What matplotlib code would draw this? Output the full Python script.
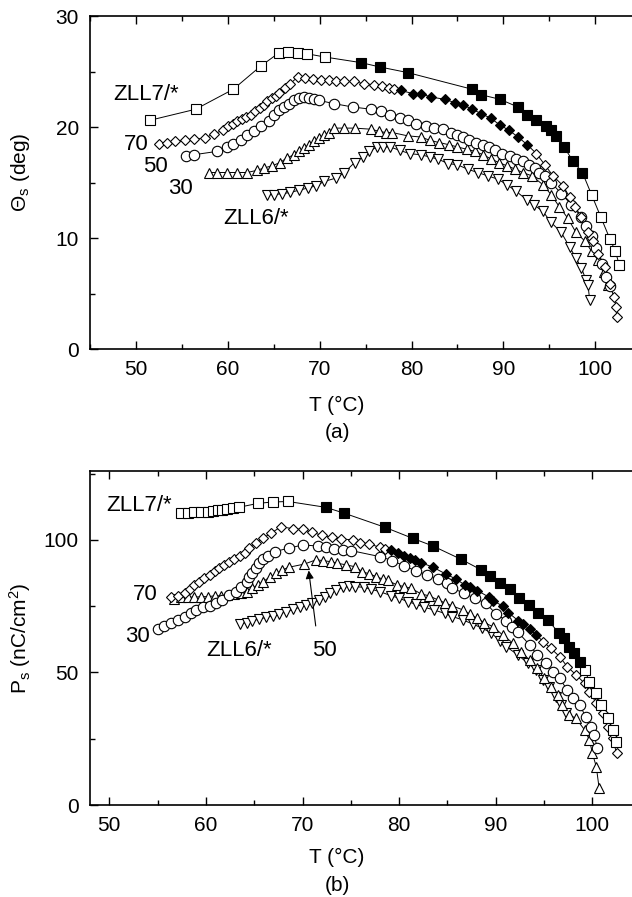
import numpy as np
import matplotlib
matplotlib.use("Agg")
import matplotlib.pyplot as plt
from matplotlib.ticker import MultipleLocator

plt.rcParams.update({
    "font.family": ["Liberation Sans", "DejaVu Sans"], "font.size": 15,
    "mathtext.fontset": "custom", "mathtext.rm": "Liberation Sans",
    "mathtext.it": "Liberation Sans:italic"})

# ---------------- (a) tilt angle Theta_s (deg) vs T (C)
a7_T = [51.5, 56.5, 60.6, 63.6, 65.6, 66.6, 67.6, 68.6, 70.6, 74.5, 76.6, 79.6, 86.6, 87.6,
        89.6, 91.6, 92.6, 93.6, 94.6, 95.2, 95.7, 96.6, 97.6, 98.6, 99.6, 100.6, 101.6, 102.2, 102.6]
a7_th = [20.6, 21.6, 23.4, 25.5, 26.7, 26.8, 26.7, 26.6, 26.3, 25.8, 25.4, 24.9, 23.4, 22.9,
         22.5, 21.8, 21.1, 20.6, 20.1, 19.7, 19.2, 18.2, 16.9, 15.9, 13.9, 11.9, 9.9, 8.8, 7.6]
a70_T = [52.5, 53.4, 54.3, 55.3, 56.3, 57.5, 58.5, 59.5, 60.0, 60.6, 61.0, 61.5, 62.0, 62.5, 63.0,
         63.5, 63.9, 64.3, 64.8, 65.2, 65.6, 66.2, 66.8, 67.6, 68.4, 69.3, 70.2, 71.0, 71.8, 72.7,
         73.7, 74.8, 75.9, 76.8, 77.6, 78.1, 78.8, 80.2, 81.0, 82.1, 83.6, 84.7, 85.6, 86.6, 87.6,
         88.6, 89.6, 90.6, 91.6, 92.6, 93.6, 94.5, 95.4, 96.5, 97.2, 97.8, 98.5, 99.2, 99.8, 100.3,
         101.1, 101.6, 102.0, 102.3, 102.4]
a70_th = [18.5, 18.6, 18.7, 18.8, 18.9, 19.0, 19.4, 19.7, 20.1, 20.3, 20.5, 20.7, 20.9, 21.1, 21.4,
          21.7, 22.0, 22.3, 22.6, 22.8, 23.1, 23.5, 23.9, 24.5, 24.4, 24.3, 24.2, 24.2, 24.1, 24.1,
          24.1, 23.9, 23.8, 23.7, 23.5, 23.4, 23.3, 23.0, 23.0, 22.7, 22.5, 22.2, 22.0, 21.6, 21.2,
          20.8, 20.2, 19.7, 19.1, 18.4, 17.6, 16.6, 15.6, 14.7, 13.7, 12.8, 11.9, 10.5, 9.7, 8.6,
          7.4, 5.9, 4.7, 3.8, 2.9]
a50_T = [55.5, 56.3, 58.8, 59.9, 60.6, 61.4, 62.1, 62.8, 63.6, 64.5, 65.0, 65.6, 66.1, 66.7, 67.2,
         67.7, 68.3, 68.8, 69.4, 69.9, 71.6, 73.6, 75.6, 76.7, 77.7, 78.7, 79.6, 80.5, 81.6, 82.5,
         83.4, 84.3, 85.0, 85.6, 86.3, 87.0, 87.8, 88.4, 89.1, 89.9, 90.7, 91.4, 92.1, 92.8, 93.4,
         93.9, 94.5, 95.2, 96.3, 97.4, 98.5, 99.0, 99.6, 100.1, 100.7, 101.2, 101.6]
a50_th = [17.4, 17.5, 17.8, 18.2, 18.5, 18.8, 19.3, 19.6, 20.1, 20.5, 21.1, 21.5, 21.8, 22.1, 22.4,
          22.6, 22.7, 22.6, 22.5, 22.4, 22.1, 21.8, 21.6, 21.4, 21.1, 20.8, 20.6, 20.3, 20.1, 19.9,
          19.8, 19.5, 19.3, 19.1, 18.8, 18.6, 18.4, 18.2, 17.9, 17.6, 17.4, 17.1, 16.9, 16.6, 16.3,
          15.9, 15.6, 15.0, 14.0, 13.0, 11.9, 11.1, 10.2, 9.1, 7.7, 6.5, 5.7]
a30_T = [57.9, 58.8, 59.9, 61.0, 62.1, 63.2, 63.9, 64.8, 65.7, 66.4, 67.2, 67.7, 68.3, 68.8, 69.4,
         69.9, 70.5, 71.0, 71.6, 72.7, 73.8, 75.6, 76.5, 77.2, 77.9, 79.6, 81.0, 82.0, 83.0, 84.1,
         85.0, 86.0, 86.9, 87.8, 88.7, 89.5, 90.4, 91.3, 92.1, 93.1, 94.3, 95.2, 96.1, 97.0, 97.9,
         98.9, 99.6, 100.3, 100.9, 101.4]
a30_th = [15.9, 15.9, 15.9, 15.9, 15.9, 16.1, 16.3, 16.5, 16.8, 17.2, 17.5, 17.8, 18.1, 18.4, 18.7,
          19.0, 19.3, 19.5, 19.9, 19.9, 19.9, 19.8, 19.6, 19.5, 19.5, 19.2, 19.1, 18.8, 18.6, 18.4,
          18.2, 18.0, 17.8, 17.5, 17.1, 16.8, 16.5, 16.2, 15.9, 15.6, 14.8, 13.9, 12.8, 11.8, 10.5,
          9.7, 8.8, 8.0, 6.9, 5.8]
a6_T = [64.3, 65.0, 65.9, 66.8, 67.7, 68.7, 69.6, 70.5, 71.8, 72.7, 73.8, 74.7, 75.4, 76.2, 76.9,
        77.7, 78.7, 79.8, 81.0, 82.0, 82.9, 84.0, 85.0, 86.1, 87.2, 88.3, 89.4, 90.4, 91.4, 92.6,
        93.3, 94.3, 95.2, 96.3, 97.2, 97.9, 98.5, 99.0, 99.2, 99.4]
a6_th = [13.9, 13.9, 14.0, 14.1, 14.3, 14.5, 14.7, 15.1, 15.4, 15.9, 16.8, 17.3, 17.8, 18.2, 18.2,
         18.2, 17.9, 17.6, 17.5, 17.3, 17.1, 16.7, 16.6, 16.2, 15.9, 15.6, 15.3, 14.8, 14.2, 13.4,
         13.0, 12.4, 11.4, 10.5, 9.2, 8.2, 7.3, 6.2, 5.8, 4.4]

# ---------------- (b) polarization P_s (nC/cm2) vs T (C)
b7_T = [57.4, 58.1, 58.8, 59.5, 60.2, 60.7, 61.2, 61.7, 62.2, 62.8, 63.4, 65.4, 66.9, 68.5, 72.4,
        74.3, 78.5, 81.4, 83.5, 86.4, 88.5, 89.4, 90.4, 91.5, 92.4, 93.4, 94.4, 95.4, 96.5, 97.1,
        97.6, 98.1, 98.7, 99.2, 99.7, 100.4, 100.9, 101.6, 102.1, 102.4]
b7_P = [110.1, 110.3, 110.4, 110.6, 110.7, 110.9, 111.1, 111.3, 111.6, 112.0, 112.3, 113.8, 114.3,
        114.5, 112.3, 110.1, 104.8, 100.6, 97.7, 92.7, 88.7, 86.4, 83.9, 81.4, 78.0, 75.5, 72.6,
        69.8, 65.0, 62.9, 59.7, 57.2, 54.1, 50.9, 46.5, 42.1, 37.7, 32.7, 28.3, 23.9]
b70_T = [56.4, 57.1, 57.8, 58.3, 58.8, 59.3, 59.8, 60.4, 60.9, 61.4, 61.9, 62.4, 62.9, 63.5, 64.0,
         64.5, 65.2, 65.9, 66.7, 67.8, 69.0, 70.0, 71.0, 72.0, 73.0, 74.0, 75.2, 75.9, 76.9, 78.0,
         78.5, 79.2, 79.9, 80.5, 81.1, 81.6, 82.3, 83.5, 84.8, 85.9, 86.8, 87.3, 88.1, 89.3, 89.7,
         90.7, 91.3, 92.3, 92.8, 93.5, 94.2, 94.9, 95.7, 96.6, 97.4, 98.3, 99.2, 99.7, 100.4, 101.1,
         101.6, 102.1, 102.5]
b70_P = [78.6, 78.9, 79.9, 81.4, 83.0, 84.3, 85.5, 86.8, 88.4, 89.3, 90.6, 91.8, 92.7, 94.0, 95.2,
         96.9, 98.7, 100.6, 102.5, 105.0, 104.2, 104.0, 102.8, 101.8, 101.0, 100.4, 100.0, 99.0,
         98.5, 97.2, 96.5, 96.2, 95.0, 94.0, 93.1, 92.5, 91.4, 89.7, 87.2, 85.2, 83.0, 82.1, 80.9,
         78.4, 77.1, 75.1, 72.6, 69.6, 68.3, 66.3, 64.2, 61.6, 59.1, 56.0, 52.2, 49.1, 45.9, 42.8,
         38.4, 34.6, 29.5, 25.2, 19.5]
b30_T = [55.0, 55.7, 56.4, 57.1, 57.8, 58.5, 59.0, 59.7, 60.4, 61.0, 61.7, 62.4, 63.1, 63.6, 64.2,
         64.5, 64.8, 65.2, 65.5, 65.9, 66.4, 67.1, 68.6, 70.0, 71.6, 72.4, 73.3, 74.2, 75.0, 78.0,
         79.3, 80.5, 81.7, 82.9, 84.0, 84.9, 85.5, 86.7, 87.8, 89.0, 90.0, 91.1, 91.7, 92.3, 93.5,
         94.3, 95.2, 95.9, 96.6, 97.4, 98.0, 98.7, 99.3, 99.9, 100.2, 100.5]
b30_P = [66.3, 67.5, 68.8, 69.8, 71.1, 72.6, 73.6, 74.6, 75.1, 76.1, 77.4, 79.2, 80.5, 82.1, 84.3,
         86.2, 87.4, 89.3, 91.2, 92.7, 94.0, 95.6, 96.9, 98.1, 97.7, 97.2, 96.5, 96.2, 96.0, 93.7,
         92.2, 90.2, 88.4, 86.8, 85.2, 83.7, 81.8, 79.9, 78.0, 76.1, 72.1, 69.6, 67.3, 65.2, 60.4,
         56.6, 53.5, 50.3, 47.8, 43.4, 40.3, 37.7, 33.3, 29.5, 26.4, 21.4]
b50_T = [56.7, 57.4, 58.1, 58.8, 59.5, 60.2, 60.9, 61.6, 62.2, 62.9, 63.6, 64.3, 64.8, 65.4, 65.9,
         66.6, 67.3, 67.9, 68.6, 70.2, 71.4, 72.1, 72.9, 73.6, 74.5, 75.4, 76.2, 76.9, 77.6, 78.3,
         78.8, 79.8, 80.5, 81.2, 82.3, 83.1, 84.0, 84.7, 85.5, 86.6, 87.3, 88.1, 88.8, 89.7, 90.7,
         91.8, 92.6, 93.5, 94.3, 95.0, 95.7, 96.4, 96.9, 97.6, 98.3, 99.2, 99.7, 100.0, 100.4, 100.7]
b50_P = [77.6, 78.4, 78.4, 78.4, 78.6, 78.6, 78.9, 78.9, 79.2, 79.6, 79.9, 80.5, 81.8, 83.0, 84.3,
         85.9, 87.4, 88.7, 89.7, 90.9, 92.5, 92.2, 91.8, 91.2, 90.6, 89.9, 88.0, 87.2, 86.2, 85.2,
         84.7, 83.0, 82.4, 81.8, 79.6, 78.9, 77.4, 76.3, 75.1, 73.6, 72.1, 70.4, 68.8, 67.3, 64.2,
         61.0, 57.9, 54.7, 51.6, 47.8, 44.6, 41.5, 37.7, 34.0, 32.7, 28.3, 24.5, 19.5, 14.5, 6.3]
b6_T = [63.5, 64.2, 64.8, 65.5, 66.2, 66.9, 67.6, 68.3, 69.0, 69.7, 70.4, 71.0, 71.7, 72.3, 72.8,
        73.5, 74.2, 74.8, 75.4, 76.4, 77.1, 78.0, 79.2, 80.0, 80.9, 81.7, 82.6, 83.6, 84.7, 85.5,
        86.6, 87.6, 88.6, 89.5, 90.4, 91.1, 92.3, 93.3, 94.2, 94.9, 95.5, 96.2, 96.8, 97.3]
b6_P = [68.3, 68.8, 69.6, 70.1, 70.8, 71.3, 72.1, 72.9, 73.8, 74.6, 75.5, 76.1, 77.4, 78.6, 79.9,
        81.1, 82.1, 82.6, 82.4, 82.1, 81.4, 80.5, 78.9, 78.0, 76.7, 75.8, 74.6, 73.6, 72.3, 71.1,
        69.8, 68.3, 66.7, 65.0, 62.0, 59.7, 56.6, 53.5, 50.9, 47.2, 44.6, 40.9, 37.7, 34.6]

FILL_A7, FILL_A70 = (74, 99), (78.5, 93)
FILL_B7, FILL_B70 = (72, 99), (79, 94.5)


def series(ax, T, v, marker, ms, fill=None):
    T, v = np.asarray(T), np.asarray(v)
    ax.plot(T, v, "-", color="k", lw=0.7, zorder=1)
    m = np.zeros(len(T), bool) if fill is None else (T >= fill[0]) & (T <= fill[1])
    ax.plot(T[~m], v[~m], ls="none", marker=marker, ms=ms, mfc="white", mec="k", mew=0.8, zorder=2)
    ax.plot(T[m], v[m], ls="none", marker=marker, ms=ms, mfc="k", mec="k", mew=0.8, zorder=3)


def style(ax, xlim, ylim, ymaj, ymin):
    ax.set_xlim(*xlim); ax.set_ylim(*ylim)
    ax.xaxis.set_major_locator(MultipleLocator(10)); ax.xaxis.set_minor_locator(MultipleLocator(5))
    ax.yaxis.set_major_locator(MultipleLocator(ymaj)); ax.yaxis.set_minor_locator(MultipleLocator(ymin))
    ax.tick_params(which="both", direction="in", top=True, right=False, width=1.0, labelsize=15, pad=8)
    ax.tick_params(which="major", length=6); ax.tick_params(which="minor", length=3.5)
    ax.spines["right"].set_visible(False)
    for s in ("left", "bottom", "top"): ax.spines[s].set_linewidth(1.2)


W, H = 632, 897
fig = plt.figure(figsize=(W / 100, H / 100), dpi=100)
axa = fig.add_axes([90 / W, 1 - 349 / H, 542 / W, 333 / H])
axb = fig.add_axes([90 / W, 1 - 805 / H, 542 / W, 334 / H])

series(axa, a6_T, a6_th, "v", 7.5)
series(axa, a30_T, a30_th, "^", 7.5)
series(axa, a50_T, a50_th, "o", 7.5)
series(axa, a70_T, a70_th, "D", 5.6, FILL_A70)
series(axa, a7_T, a7_th, "s", 7, FILL_A7)
style(axa, (45, 104), (0, 30), 10, 5)
axa.set_ylabel(r"$\mathrm{\Theta_s}$ (deg)", fontsize=15)
axa.yaxis.label.set_va("center"); axa.yaxis.set_label_coords(-70 / 542, 0.53)
for txt, x, y in [("ZLL7/*", 146, 94), ("70", 136, 145), ("50", 155, 167),
                  ("30", 180, 188), ("ZLL6/*", 256, 218)]:
    fig.text(x / W, 1 - y / H, txt, ha="center", va="center", fontsize=16)

series(axb, b6_T, b6_P, "v", 7.5)
series(axb, b50_T, b50_P, "^", 7.5)
series(axb, b30_T, b30_P, "o", 7.5)
series(axb, b70_T, b70_P, "D", 5.6, FILL_B70)
series(axb, b7_T, b7_P, "s", 7, FILL_B7)
style(axb, (48, 104.1), (0, 126), 50, 25)
axb.set_ylabel(r"P$_\mathrm{s}$ (nC/cm$^\mathrm{2}$)", fontsize=15)
axb.yaxis.label.set_va("center"); axb.yaxis.set_label_coords(-70 / 542, 0.5)
for txt, x, y in [("ZLL7/*", 139, 505), ("70", 145, 595), ("30", 137, 636),
                  ("ZLL6/*", 239, 650), ("50", 324, 651)]:
    fig.text(x / W, 1 - y / H, txt, ha="center", va="center", fontsize=16)
axb.annotate("", xy=(70.6, 89.5), xytext=(71.4, 66.5),
             arrowprops=dict(arrowstyle="-|>", color="k", lw=0.8, mutation_scale=12))

for txt, y in [("T (°C)", 405), ("(a)", 432), ("T (°C)", 857), ("(b)", 885)]:
    fig.text(337 / W, 1 - y / H, txt, ha="center", va="center", fontsize=15)

fig.savefig("out.png", dpi=100)
